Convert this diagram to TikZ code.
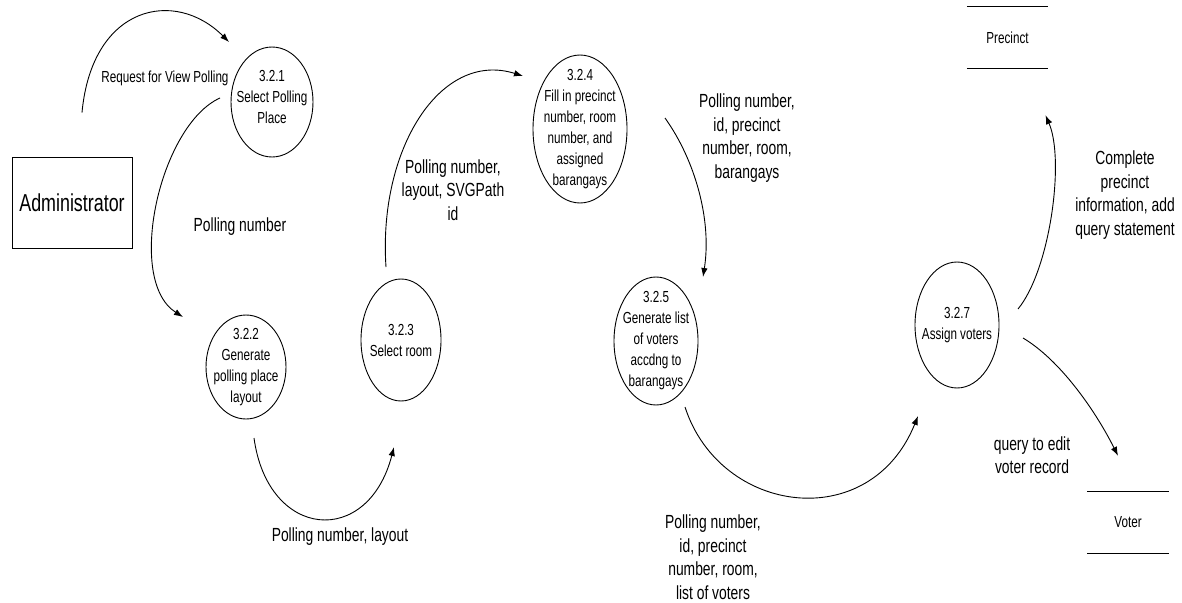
\documentclass[tikz,border=0pt]{standalone}
\usepackage{fontspec}
\setmainfont{Liberation Sans}[FakeStretch=0.73]
\usetikzlibrary{arrows.meta,shapes.geometric}
\begin{document}
\begin{tikzpicture}[x=1pt,y=-1pt,
  flow/.style={draw=black, line width=0.9pt, -{Latex[length=9pt,width=6.5pt]}},
  proc/.style={draw, ellipse, line width=0.9pt, inner sep=0pt},
  ptext/.style={align=center, font=\fontsize{16}{21}\selectfont, inner sep=0pt},
  lbl/.style={align=center, font=\fontsize{19}{23.5}\selectfont, inner sep=0pt},
  store/.style={inner sep=0pt, minimum width=81pt, minimum height=61pt, font=\fontsize{16}{20}\selectfont},
  entity/.style={draw, line width=0.9pt, inner sep=0pt, minimum width=120pt, minimum height=91pt, font=\fontsize{24.5}{28}\selectfont}]
\useasboundingbox (0,0) rectangle (1182,602);

% external entity
\node[entity] (admin) at (72,202.5) {Administrator};

% processes
\node[proc, minimum width=82pt, minimum height=110pt] (n321) at (272,102) {};
\node[ptext] (t321) at ([yshift=5pt]n321.center) {3.2.1\\Select Polling\\Place};
\node[proc, minimum width=80pt, minimum height=104pt] (n322) at (246,367) {};
\node[ptext] (t322) at (n322) {3.2.2\\Generate\\polling place\\layout};
\node[proc, minimum width=80pt, minimum height=122pt] (n323) at (401,340) {};
\node[ptext] (t323) at (n323) {3.2.3\\Select room};
\node[proc, minimum width=94pt, minimum height=148pt] (n324) at (580,129) {};
\node[ptext] (t324) at (n324) {3.2.4\\Fill in precinct\\number, room\\number, and\\assigned\\barangays};
\node[proc, minimum width=84pt, minimum height=128pt] (n325) at (656,341) {};
\node[ptext] (t325) at (n325) {3.2.5\\Generate list\\of voters\\accdng to\\barangays};
\node[proc, minimum width=84pt, minimum height=126pt] (n327) at (957,325) {};
\node[ptext] (t327) at (n327) {3.2.7\\Assign voters};

% data stores
\node[store] (precinct) at (1007.5,37.5) {Precinct};
\draw[line width=0.9pt] (precinct.north west) -- (precinct.north east);
\draw[line width=0.9pt] (precinct.south west) -- (precinct.south east);
\node[store] (voter) at (1128,522.5) {Voter};
\draw[line width=0.9pt] (voter.north west) -- (voter.north east);
\draw[line width=0.9pt] (voter.south west) -- (voter.south east);

% flows
\draw[flow] ([shift={(10,-44)}]admin.north) .. controls (92,5) and (175,-12) .. ([shift={(-43,-60)}]n321.center);
\draw[flow] ([shift={(-52,-4)}]n321.center) .. controls (160,125) and (125,280) .. ([shift={(-63,-50)}]n322.center);
\draw[flow] ([shift={(8,71)}]n322.center) .. controls (268,540) and (368,548) .. ([shift={(-7,107)}]n323.center);
\draw[flow] ([shift={(-15,-73)}]n323.center) .. controls (378,150) and (440,50) .. ([shift={(-57,-53)}]n324.center);
\draw[flow] ([shift={(85,-11)}]n324.center) .. controls (695,160) and (712,220) .. ([shift={(47,-64)}]n325.center);
\draw[flow] ([shift={(29,66)}]n325.center) .. controls (720,515) and (870,535) .. ([shift={(-39,91)}]n327.center);
\draw[flow] ([shift={(61,-16)}]n327.center) .. controls (1050,270) and (1065,160) .. ([shift={(38,47)}]precinct.south);
\draw[flow] ([shift={(66,13)}]n327.center) .. controls (1060,360) and (1095,410) .. ([shift={(-10,-36)}]voter.north);

% labels
\node[ptext] (l1) at (165,78) {Request for View Polling};
\node[lbl] (l2) at (240,227) {Polling number};
\node[lbl] (l3) at (340,537) {Polling number, layout};
\node[lbl] (l4) at (453,190) {Polling number,\\layout, SVGPath\\id};
\node[lbl] (l5) at (747,138) {Polling number,\\id, precinct\\number, room,\\barangays};
\node[lbl] (l6) at (713,557) {Polling number,\\id, precinct\\number, room,\\list of voters};
\node[lbl] (l7) at (1125,195) {Complete\\precinct\\information, add\\query statement};
\node[lbl] (l8) at (1032,455) {query to edit\\voter record};
\end{tikzpicture}
\end{document}
